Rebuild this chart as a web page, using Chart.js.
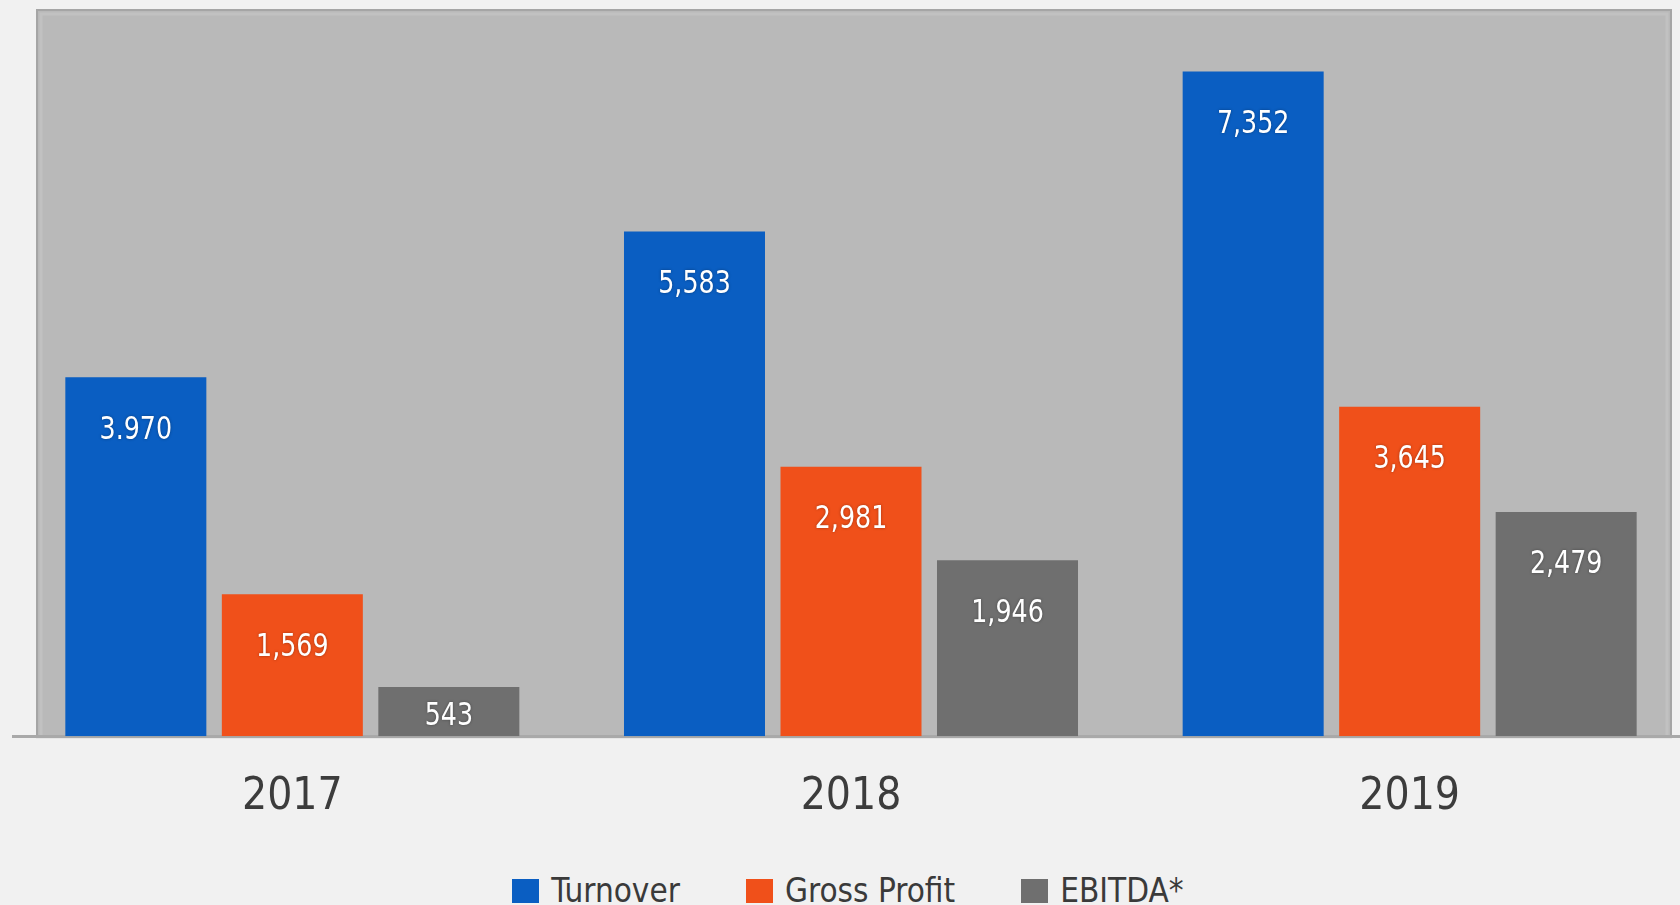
<!DOCTYPE html>
<html>
<head>
<meta charset="utf-8">
<title>Turnover, Gross Profit and EBITDA 2017–2019</title>
<script src="https://cdn.jsdelivr.net/npm/chart.js@4/dist/chart.umd.min.js"></script>
<style>
  html, body { margin: 0; padding: 0; background: #f1f1f1; overflow: hidden; width: 1680px; height: 905px; }
  #wrap { position: absolute; left: 0; top: 0; width: 1700px; height: 859px; }
  #legend {
    position: absolute; left: 0; top: 876px; width: 1696px;
    display: flex; justify-content: center; align-items: center;
    font-family: 'DejaVu Sans Condensed', 'Liberation Sans Narrow', sans-serif;
    font-size: 33px; color: #3a3a3a; line-height: 30px;
  }
  #legend .item { display: flex; align-items: center; margin: 0 33px; }
  #legend .box { width: 27px; height: 24px; margin-right: 12px; }
</style>
</head>
<body>
<div id="wrap"><canvas id="chart" width="1700" height="859"></canvas></div>
<div id="legend"></div>
<script>
const years = ['2017', '2018', '2019'];
const turnover = [3970, 5583, 7352];
const grossProfit = [1569, 2981, 3645];
const ebitda = [543, 1946, 2479];
const turnoverText = ['3.970', '5,583', '7,352'];
const grossProfitText = ['1,569', '2,981', '3,645'];
const ebitdaText = ['543', '1,946', '2,479'];
const seriesNames = ['Turnover', 'Gross Profit', 'EBITDA*'];
const yMax = 8000;

const FONT = "'DejaVu Sans Condensed', 'Liberation Sans Narrow', sans-serif";
const COLORS = ['#0a5ec2', '#f0501a', '#6f6f6f'];
const valueTexts = [turnoverText, grossProfitText, ebitdaText];

// grey plot panel behind the bars
const panelPlugin = {
  id: 'panel',
  beforeDraw(chart) {
    const { ctx, chartArea: a } = chart;
    const left = a.left + 23, right = a.right - 17, top = a.top - 4, bottom = a.bottom;
    ctx.save();
    ctx.fillStyle = '#b9b9b9';
    ctx.fillRect(left, top, right - left, bottom - top);
    ctx.strokeStyle = 'rgba(150,150,150,0.55)';
    ctx.lineWidth = 2;
    ctx.strokeRect(left + 1, top + 1, right - left - 2, bottom - top);
    ctx.strokeStyle = 'rgba(210,210,210,0.35)';
    ctx.lineWidth = 3;
    ctx.beginPath();
    ctx.moveTo(left + 5, bottom); ctx.lineTo(left + 5, top + 5); ctx.lineTo(right - 5, top + 5); ctx.lineTo(right - 5, bottom);
    ctx.stroke();
    ctx.restore();
  }
};

// value labels inside the top of each bar, in a narrow face
const valueLabelPlugin = {
  id: 'valueLabels',
  afterDatasetsDraw(chart) {
    const { ctx } = chart;
    const squeeze = 0.88;
    ctx.save();
    ctx.font = '32px ' + FONT;
    ctx.fillStyle = '#ffffff';
    ctx.textAlign = 'center';
    ctx.textBaseline = 'middle';
    ctx.shadowColor = 'rgba(0,0,0,0.35)';
    ctx.shadowBlur = 3;
    chart.data.datasets.forEach((ds, i) => {
      chart.getDatasetMeta(i).data.forEach((bar, j) => {
        const cy = Math.min(bar.y + 53, (bar.y + bar.base) / 2 + 5);
        ctx.save();
        ctx.translate(bar.x, cy);
        ctx.scale(squeeze, 1);
        ctx.fillText(valueTexts[i][j], 0, 0);
        ctx.restore();
      });
    });
    ctx.restore();
  }
};

const chart = new Chart(document.getElementById('chart'), {
  type: 'bar',
  data: {
    labels: years,
    datasets: [
      { label: seriesNames[0], data: turnover, backgroundColor: COLORS[0] },
      { label: seriesNames[1], data: grossProfit, backgroundColor: COLORS[1] },
      { label: seriesNames[2], data: ebitda, backgroundColor: COLORS[2] }
    ]
  },
  options: {
    responsive: false,
    animation: false,
    devicePixelRatio: 1,
    layout: { padding: { left: 13, right: 11, top: 13, bottom: 0 } },
    datasets: { bar: { categoryPercentage: 0.8404, barPercentage: 0.901, borderWidth: 0 } },
    scales: {
      x: {
        grid: { display: false, drawTicks: false },
        border: { display: true, color: '#a9a9a9', width: 3 },
        ticks: { color: '#3c3c3c', padding: 35, font: { family: FONT, size: 44 } }
      },
      y: {
        display: false,
        min: 0,
        max: yMax
      }
    },
    plugins: {
      legend: { display: false },
      tooltip: { enabled: false }
    }
  },
  plugins: [panelPlugin, valueLabelPlugin]
});

// legend built from the chart's datasets
const legendEl = document.getElementById('legend');
chart.data.datasets.forEach(ds => {
  const item = document.createElement('div');
  item.className = 'item';
  const box = document.createElement('span');
  box.className = 'box';
  box.style.background = ds.backgroundColor;
  const txt = document.createElement('span');
  txt.textContent = ds.label;
  item.appendChild(box);
  item.appendChild(txt);
  legendEl.appendChild(item);
});
</script>
</body>
</html>
